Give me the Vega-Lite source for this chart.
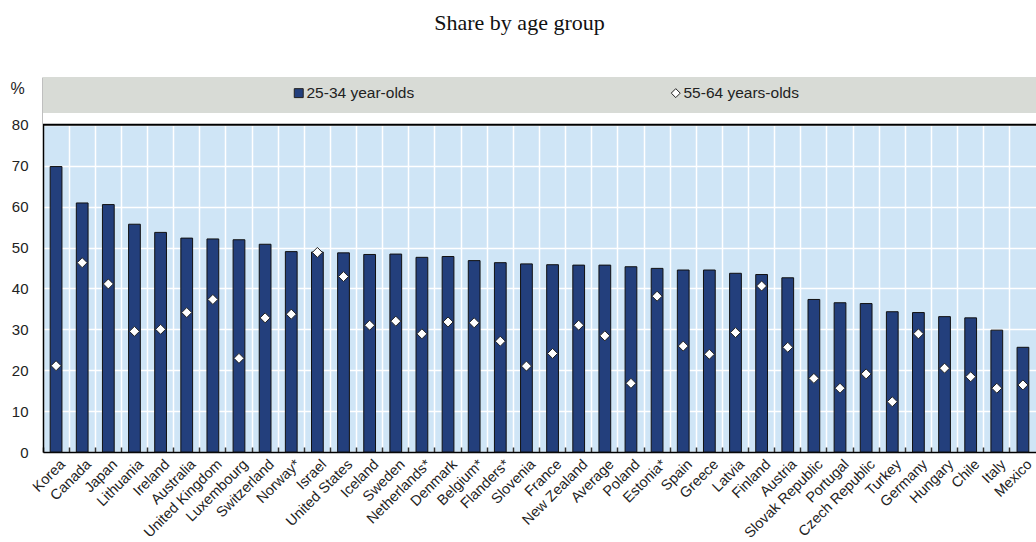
{
  "$schema": "https://vega.github.io/schema/vega-lite/v6.json",
  "width": 993,
  "height": 375,
  "autosize": "none",
  "padding": {"left": 43, "top": 77, "right": 0, "bottom": 90},
  "background": "white",
  "title": {"text": "Share by age group", "font": "Liberation Serif", "fontSize": 22, "fontWeight": "normal", "color": "#111", "anchor": "middle", "dx": -20, "offset": 42},
  "config": {"view": {"fill": "#cfe5f6", "stroke": null}},
  "datasets": {
    "main": [
      {"country": "Korea", "group": "25-34 year-olds", "share": 69.8}, {"country": "Korea", "group": "55-64 years-olds", "share": 21.1},
      {"country": "Canada", "group": "25-34 year-olds", "share": 60.9}, {"country": "Canada", "group": "55-64 years-olds", "share": 46.3},
      {"country": "Japan", "group": "25-34 year-olds", "share": 60.5}, {"country": "Japan", "group": "55-64 years-olds", "share": 41.1},
      {"country": "Lithuania", "group": "25-34 year-olds", "share": 55.7}, {"country": "Lithuania", "group": "55-64 years-olds", "share": 29.5},
      {"country": "Ireland", "group": "25-34 year-olds", "share": 53.7}, {"country": "Ireland", "group": "55-64 years-olds", "share": 30.0},
      {"country": "Australia", "group": "25-34 year-olds", "share": 52.3}, {"country": "Australia", "group": "55-64 years-olds", "share": 34.1},
      {"country": "United Kingdom", "group": "25-34 year-olds", "share": 52.1}, {"country": "United Kingdom", "group": "55-64 years-olds", "share": 37.3},
      {"country": "Luxembourg", "group": "25-34 year-olds", "share": 51.9}, {"country": "Luxembourg", "group": "55-64 years-olds", "share": 22.9},
      {"country": "Switzerland", "group": "25-34 year-olds", "share": 50.8}, {"country": "Switzerland", "group": "55-64 years-olds", "share": 32.8},
      {"country": "Norway*", "group": "25-34 year-olds", "share": 49.0}, {"country": "Norway*", "group": "55-64 years-olds", "share": 33.7},
      {"country": "Israel", "group": "25-34 year-olds", "share": 48.9}, {"country": "Israel", "group": "55-64 years-olds", "share": 48.8},
      {"country": "United States", "group": "25-34 year-olds", "share": 48.7}, {"country": "United States", "group": "55-64 years-olds", "share": 42.9},
      {"country": "Iceland", "group": "25-34 year-olds", "share": 48.3}, {"country": "Iceland", "group": "55-64 years-olds", "share": 31.0},
      {"country": "Sweden", "group": "25-34 year-olds", "share": 48.4}, {"country": "Sweden", "group": "55-64 years-olds", "share": 32.0},
      {"country": "Netherlands*", "group": "25-34 year-olds", "share": 47.6}, {"country": "Netherlands*", "group": "55-64 years-olds", "share": 28.9},
      {"country": "Denmark", "group": "25-34 year-olds", "share": 47.8}, {"country": "Denmark", "group": "55-64 years-olds", "share": 31.8},
      {"country": "Belgium*", "group": "25-34 year-olds", "share": 46.8}, {"country": "Belgium*", "group": "55-64 years-olds", "share": 31.6},
      {"country": "Flanders*", "group": "25-34 year-olds", "share": 46.3}, {"country": "Flanders*", "group": "55-64 years-olds", "share": 27.1},
      {"country": "Slovenia", "group": "25-34 year-olds", "share": 46.0}, {"country": "Slovenia", "group": "55-64 years-olds", "share": 21.0},
      {"country": "France", "group": "25-34 year-olds", "share": 45.8}, {"country": "France", "group": "55-64 years-olds", "share": 24.1},
      {"country": "New Zealand", "group": "25-34 year-olds", "share": 45.7}, {"country": "New Zealand", "group": "55-64 years-olds", "share": 31.0},
      {"country": "Average", "group": "25-34 year-olds", "share": 45.7}, {"country": "Average", "group": "55-64 years-olds", "share": 28.4},
      {"country": "Poland", "group": "25-34 year-olds", "share": 45.3}, {"country": "Poland", "group": "55-64 years-olds", "share": 16.8},
      {"country": "Estonia*", "group": "25-34 year-olds", "share": 44.9}, {"country": "Estonia*", "group": "55-64 years-olds", "share": 38.1},
      {"country": "Spain", "group": "25-34 year-olds", "share": 44.5}, {"country": "Spain", "group": "55-64 years-olds", "share": 25.9},
      {"country": "Greece", "group": "25-34 year-olds", "share": 44.5}, {"country": "Greece", "group": "55-64 years-olds", "share": 23.9},
      {"country": "Latvia", "group": "25-34 year-olds", "share": 43.7}, {"country": "Latvia", "group": "55-64 years-olds", "share": 29.2},
      {"country": "Finland", "group": "25-34 year-olds", "share": 43.4}, {"country": "Finland", "group": "55-64 years-olds", "share": 40.6},
      {"country": "Austria", "group": "25-34 year-olds", "share": 42.6}, {"country": "Austria", "group": "55-64 years-olds", "share": 25.6},
      {"country": "Slovak Republic", "group": "25-34 year-olds", "share": 37.3}, {"country": "Slovak Republic", "group": "55-64 years-olds", "share": 18.0},
      {"country": "Portugal", "group": "25-34 year-olds", "share": 36.5}, {"country": "Portugal", "group": "55-64 years-olds", "share": 15.6},
      {"country": "Czech Republic", "group": "25-34 year-olds", "share": 36.3}, {"country": "Czech Republic", "group": "55-64 years-olds", "share": 19.1},
      {"country": "Turkey", "group": "25-34 year-olds", "share": 34.3}, {"country": "Turkey", "group": "55-64 years-olds", "share": 12.3},
      {"country": "Germany", "group": "25-34 year-olds", "share": 34.1}, {"country": "Germany", "group": "55-64 years-olds", "share": 28.9},
      {"country": "Hungary", "group": "25-34 year-olds", "share": 33.1}, {"country": "Hungary", "group": "55-64 years-olds", "share": 20.5},
      {"country": "Chile", "group": "25-34 year-olds", "share": 32.8}, {"country": "Chile", "group": "55-64 years-olds", "share": 18.4},
      {"country": "Italy", "group": "25-34 year-olds", "share": 29.8}, {"country": "Italy", "group": "55-64 years-olds", "share": 15.6},
      {"country": "Mexico", "group": "25-34 year-olds", "share": 25.6}, {"country": "Mexico", "group": "55-64 years-olds", "share": 16.4}
    ]
  },
  "layer": [
    {
      "data": {"name": "main"},
      "transform": [{"filter": "datum.group == '25-34 year-olds'"}],
      "mark": {"type": "bar", "color": "#233f7c", "stroke": "#111", "strokeWidth": 1, "width": {"band": 0.45}},
      "encoding": {
        "x": {
          "field": "country", "type": "nominal", "sort": null,
          "scale": {"paddingInner": 0, "paddingOuter": 0},
          "axis": {
            "title": null, "labelAngle": -45, "labelAlign": "right", "labelBaseline": "middle",
            "labelFont": "Liberation Sans", "labelFontSize": 14.5, "labelColor": "#222",
            "bandPosition": 0, "labelOffset": 7, "tickSize": -5, "tickColor": "#333", "tickWidth": 1.5,
            "labelPadding": 15, "domainColor": "#000", "domainWidth": 1.5,
            "grid": true, "gridColor": "#ffffff", "gridWidth": 1.5, "gridOpacity": 1
          }
        },
        "y": {
          "field": "share", "type": "quantitative",
          "scale": {"domain": [0, 91.7], "nice": false, "zero": true},
          "axis": {
            "title": "%", "titleAngle": 0, "titleX": -26, "titleY": 11, "titleAlign": "center", "titleBaseline": "middle",
            "titleFont": "Liberation Sans", "titleFontSize": 16, "titleFontWeight": "normal", "titleColor": "#222",
            "values": [0, 10, 20, 30, 40, 50, 60, 70, 80],
            "labelFont": "Liberation Sans", "labelFontSize": 15, "labelColor": "#222",
            "ticks": false, "labelPadding": 15, "domainColor": "#000", "domainWidth": 1.5,
            "grid": true, "gridColor": "#ffffff", "gridWidth": 1.5, "gridOpacity": 1
          }
        }
      }
    },
    {
      "data": {"values": [{}]},
      "mark": {"type": "rect", "color": "#ffffff"},
      "encoding": {"y": {"datum": 80}, "y2": {"datum": 82.9}}
    },
    {
      "data": {"values": [{}]},
      "mark": {"type": "rect", "color": "#d8dbd6"},
      "encoding": {"y": {"datum": 82.9}, "y2": {"datum": 91.7}}
    },
    {
      "data": {"values": [{}]},
      "mark": {"type": "rule", "color": "#000", "strokeWidth": 2},
      "encoding": {"y": {"datum": 80}}
    },
    {
      "data": {"name": "main"},
      "transform": [{"filter": "datum.group == '55-64 years-olds'"}],
      "mark": {"type": "point", "filled": true, "stroke": "#222", "strokeWidth": 1, "size": 100, "opacity": 1},
      "encoding": {
        "x": {"field": "country", "type": "nominal", "sort": null},
        "y": {"field": "share", "type": "quantitative"},
        "color": {
          "field": "group", "type": "nominal",
          "scale": {"domain": ["25-34 year-olds", "55-64 years-olds"], "range": ["#233f7c", "#ffffff"]},
          "legend": {
            "title": null, "orient": "none", "legendX": 248, "legendY": 8, "direction": "horizontal",
            "columnPadding": 253, "symbolSize": 80, "labelFont": "Liberation Sans", "labelFontSize": 15.5,
            "labelColor": "#222", "symbolStrokeColor": "#222", "symbolStrokeWidth": 1, "labelOffset": 0, "padding": 0
          }
        },
        "shape": {
          "field": "group", "type": "nominal",
          "scale": {"domain": ["25-34 year-olds", "55-64 years-olds"], "range": ["square", "diamond"]},
          "legend": {
            "title": null, "orient": "none", "legendX": 248, "legendY": 8, "direction": "horizontal",
            "columnPadding": 253, "symbolSize": 80, "labelFont": "Liberation Sans", "labelFontSize": 15.5,
            "labelColor": "#222", "symbolStrokeColor": "#222", "symbolStrokeWidth": 1, "labelOffset": 0, "padding": 0
          }
        }
      }
    }
  ]
}
